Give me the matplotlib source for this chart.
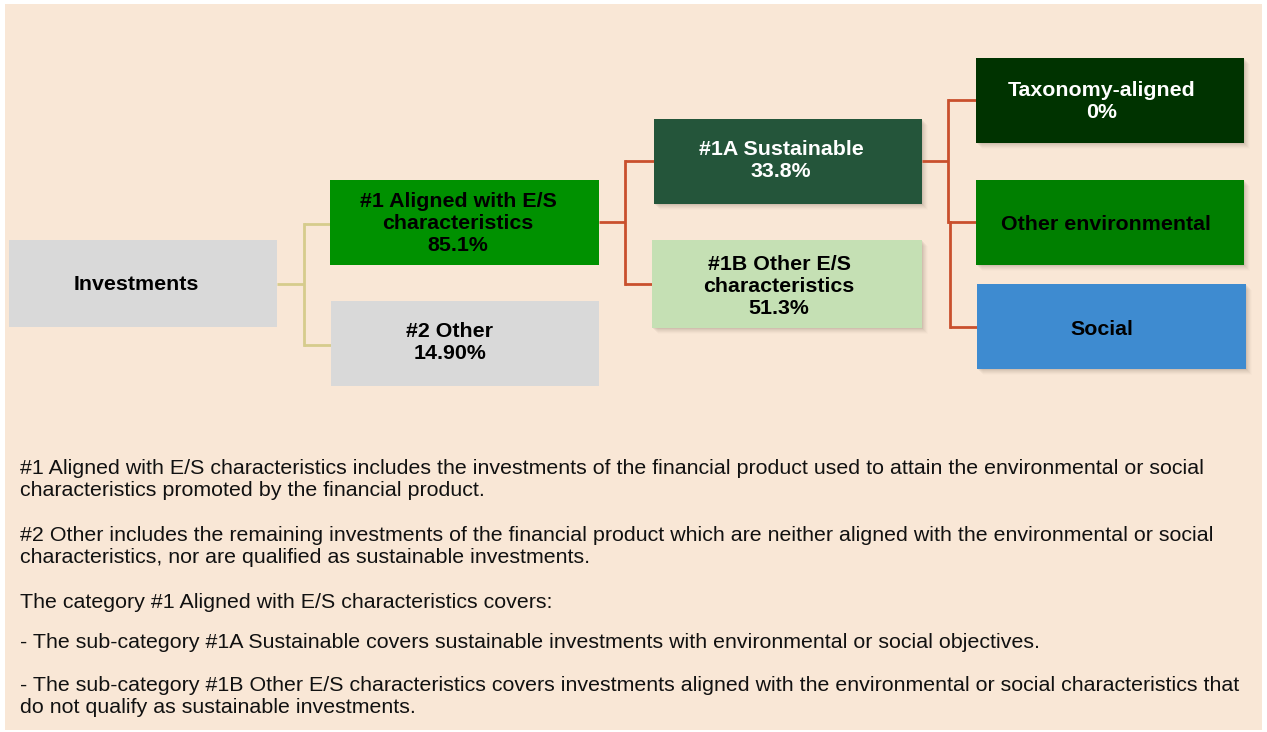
import matplotlib
matplotlib.use("Agg")
import matplotlib.pyplot as plt
from matplotlib.patches import Rectangle

plt.rcParams['font.family'] = ['Liberation Sans', 'DejaVu Sans']

# ---- data ----
node_names = ["Investments", "#1 Aligned with E/S\ncharacteristics", "#2 Other",
              "#1A Sustainable", "#1B Other E/S\ncharacteristics",
              "Taxonomy-aligned", "Other environmental", "Social"]
node_values = [None, "85.1%", "14.90%", "33.8%", "51.3%", "0%", None, None]

notes = [
    "#1 Aligned with E/S characteristics includes the investments of the financial product used to attain the environmental or social\ncharacteristics promoted by the financial product.",
    "#2 Other includes the remaining investments of the financial product which are neither aligned with the environmental or social\ncharacteristics, nor are qualified as sustainable investments.",
    "The category #1 Aligned with E/S characteristics covers:",
    "- The sub-category #1A Sustainable covers sustainable investments with environmental or social objectives.",
    "- The sub-category #1B Other E/S characteristics covers investments aligned with the environmental or social characteristics that\ndo not qualify as sustainable investments.",
]

# ---- layout (pixel space) ----
W, H = 1267, 732
fig = plt.figure(figsize=(W / 100, H / 100), dpi=100)
fig.patch.set_facecolor("white")
ax = fig.add_axes([0, 0, 1, 1])
ax.set_xlim(0, W)
ax.set_ylim(H, 0)
ax.axis("off")

ax.add_patch(Rectangle((5, 4), 1257, 726, facecolor="#F9E7D6", edgecolor="none", zorder=0))

# box geometry: x0, y0, x1, y1, face, text colour, text centre x, shadow
boxes = [
    (9, 240, 277, 327, "#D9D9D9", "black", 136, False),
    (330, 180, 599, 265, "#009100", "black", 458, False),
    (331, 301, 599, 386, "#D9D9D9", "black", 450, False),
    (654, 119, 922, 204, "#24553A", "white", 781, True),
    (652, 240, 922, 328, "#C5E0B4", "black", 779, True),
    (976, 58, 1244, 143, "#003300", "white", 1102, True),
    (976, 180, 1244, 265, "#007F00", "black", 1106, True),
    (977, 284, 1246, 369, "#3E8BD0", "black", 1102, True),
]
text_cy = [283, 222, 341, 159, 285, 100, 223, 328]

for i, (x0, y0, x1, y1, fc, tc, tx, sh) in enumerate(boxes):
    if sh:
        for k, a in zip(range(1, 7), [0.10, 0.08, 0.06, 0.05, 0.035, 0.02]):
            ax.add_patch(Rectangle((x0 + k, y0 + k), x1 - x0, y1 - y0,
                                   facecolor="#7a6a5a", alpha=a, edgecolor="none", zorder=1))
    ax.add_patch(Rectangle((x0, y0), x1 - x0, y1 - y0, facecolor=fc,
                           edgecolor="none", zorder=2))
    label = node_names[i] if node_values[i] is None else node_names[i] + "\n" + node_values[i]
    ax.text(tx, text_cy[i] + 1.5, label, ha="center", va="center", color=tc,
            fontsize=15.4, fontweight="bold", linespacing=1.2, zorder=3)

# connectors
def elbow(xs, ys_from, xm, ys_to, xe_list, color):
    ax.plot([xs, xm], [ys_from, ys_from], color=color, lw=2, solid_capstyle="butt", zorder=1.5)
    ax.plot([xm, xm], [min(ys_to), max(ys_to)], color=color, lw=2, zorder=1.5)
    for yt, xe in zip(ys_to, xe_list):
        ax.plot([xm, xe], [yt, yt], color=color, lw=2, solid_capstyle="butt", zorder=1.5)

elbow(277, 284, 304, [224, 345], [331, 331], "#D6CC8C")
elbow(599, 222, 625, [161, 284], [654, 652], "#C9502D")
elbow(922, 161, 948, [100, 222], [976, 976], "#C9502D")
ax.plot([950, 950], [222, 327], color="#C9502D", lw=2, zorder=1.5)
ax.plot([950, 977], [327, 327], color="#C9502D", lw=2, solid_capstyle="butt", zorder=1.5)

# notes
note_cy = [478.5, 545.5, 601, 641, 695.5]
for y, t in zip(note_cy, notes):
    ax.text(20, y + 1, t, ha="left", va="center", fontsize=15.4, color="#111111",
            linespacing=1.24, zorder=3)

fig.savefig("out.png", dpi=100, facecolor="white")
